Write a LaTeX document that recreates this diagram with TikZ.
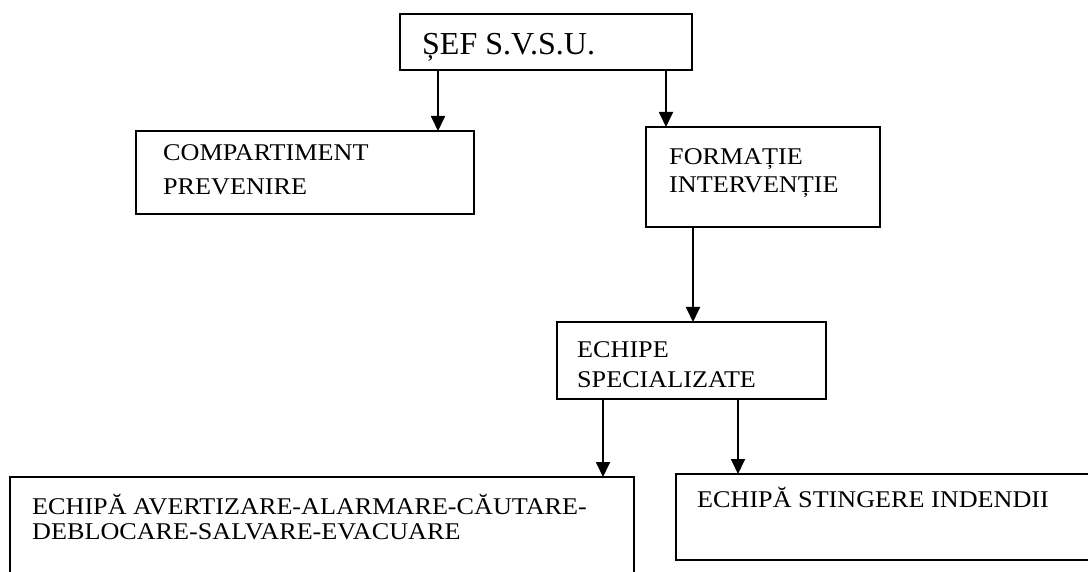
\documentclass[tikz,border=0pt]{standalone}
\usepackage{fontspec}
\setmainfont{Liberation Serif}
\newfontfamily\boxfont[FakeStretch=1.09]{Liberation Serif}
\usetikzlibrary{arrows.meta,calc}
\tikzset{
  box/.style={draw, line width=1.8pt, inner sep=0pt, outer sep=0pt, rectangle, anchor=north west},
  txt/.style={inner sep=0pt, anchor=base west, font=\boxfont\fontsize{24}{27}\selectfont},
  toptxt/.style={inner sep=0pt, anchor=base west, font=\fontsize{32}{35}\selectfont},
  arr/.style={line width=1.8pt, -{Triangle[width=14pt,length=15pt]}}
}
\begin{document}
\begin{tikzpicture}[x=1pt,y=-1pt]
\useasboundingbox (0,0) rectangle (1088,572);
% boxes
\node[box, minimum width=292pt, minimum height=56pt] (sef) at (400,14) {};
\node[box, minimum width=338pt, minimum height=83pt] (comp) at (136,131) {};
\node[box, minimum width=234pt, minimum height=100pt] (form) at (646,127) {};
\node[box, minimum width=269pt, minimum height=77pt] (ech) at (557,322) {};
\node[box, minimum width=624pt, minimum height=130pt] (evac) at (10,477) {};
\node[box, minimum width=430pt, minimum height=86pt] (sting) at (676,474) {};
% texts
\node[toptxt] (sefA) at ($(sef.north west)+(22,41)$) {ȘEF S.V.S.U.};
\node[txt] (compA) at ($(comp.north west)+(27,30)$) {COMPARTIMENT};
\node[txt] (compB) at ($(comp.north west)+(27,64)$) {PREVENIRE};
\node[txt] (formA) at ($(form.north west)+(23,38)$) {FORMAȚIE};
\node[txt] (formB) at ($(form.north west)+(23,66)$) {INTERVENȚIE};
\node[txt] (echA) at ($(ech.north west)+(20,36)$) {ECHIPE};
\node[txt] (echB) at ($(ech.north west)+(20,66)$) {SPECIALIZATE};
\node[txt] (evacA) at ($(evac.north west)+(22,37)$) {ECHIPĂ AVERTIZARE-ALARMARE-CĂUTARE-};
\node[txt] (evacB) at ($(evac.north west)+(22,62)$) {DEBLOCARE-SALVARE-EVACUARE};
\node[txt] (stingA) at ($(sting.north west)+(21,33)$) {ECHIPĂ STINGERE INDENDII};
% connectors
\coordinate (s1) at ([xshift=38pt]sef.south west);
\coordinate (s2) at ([xshift=266pt]sef.south west);
\coordinate (f1) at ([xshift=47pt]form.south west);
\coordinate (e1) at ([xshift=46pt]ech.south west);
\coordinate (e2) at ([xshift=181pt]ech.south west);
\draw[arr] (s1) -- (s1 |- comp.north);
\draw[arr] (s2) -- (s2 |- form.north);
\draw[arr] (f1) -- (f1 |- ech.north);
\draw[arr] (e1) -- (e1 |- evac.north);
\draw[arr] (e2) -- (e2 |- sting.north);
\end{tikzpicture}
\end{document}
